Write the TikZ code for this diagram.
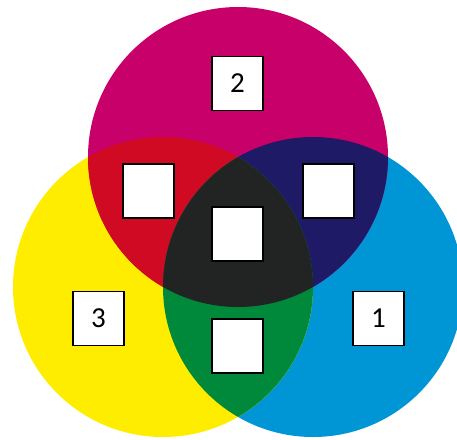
\documentclass[tikz,border=0pt]{standalone}
\usepackage{fontspec}
\setmainfont{Carlito}
\definecolor{cmag}{HTML}{C8006A}
\definecolor{cyel}{HTML}{FFED00}
\definecolor{ccya}{HTML}{0096D6}
\definecolor{cred}{HTML}{D00A22}
\definecolor{cblu}{HTML}{1F1A66}
\definecolor{cgrn}{HTML}{00893B}
\definecolor{cblk}{HTML}{222423}
\begin{document}
\begin{tikzpicture}[x=1pt,y=-1pt,
  numbox/.style={draw=black, line width=1.3pt, fill=white, minimum width=51pt, minimum height=54pt, inner sep=0pt, font=\fontsize{29}{29}\selectfont}]
\useasboundingbox (0,0) rectangle (457,439);
\coordinate (M) at (238,157);
\coordinate (Y) at (163,287);
\coordinate (C) at (313,287);
\fill[ccya] (C) circle (150pt);
\fill[cyel] (Y) circle (150pt);
\fill[cmag] (M) circle (150pt);
\begin{scope}\clip (M) circle (150pt); \fill[cred] (Y) circle (150pt);\end{scope}
\begin{scope}\clip (M) circle (150pt); \fill[cblu] (C) circle (150pt);\end{scope}
\begin{scope}\clip (Y) circle (150pt); \fill[cgrn] (C) circle (150pt);\end{scope}
\begin{scope}\clip (M) circle (150pt); \clip (Y) circle (150pt); \fill[cblk] (C) circle (150pt);\end{scope}
\node[numbox] (b2) at (237.5,83.5) {2};
\node[numbox] (br) at (148.5,191) {};
\node[numbox] (bb) at (328.5,191) {};
\node[numbox] (bc) at (237.5,234) {};
\node[numbox] (bg) at (237.5,346) {};
\node[numbox] (b3) at (98.5,318.5) {3};
\node[numbox] (b1) at (378.5,318.5) {1};
\end{tikzpicture}
\end{document}
